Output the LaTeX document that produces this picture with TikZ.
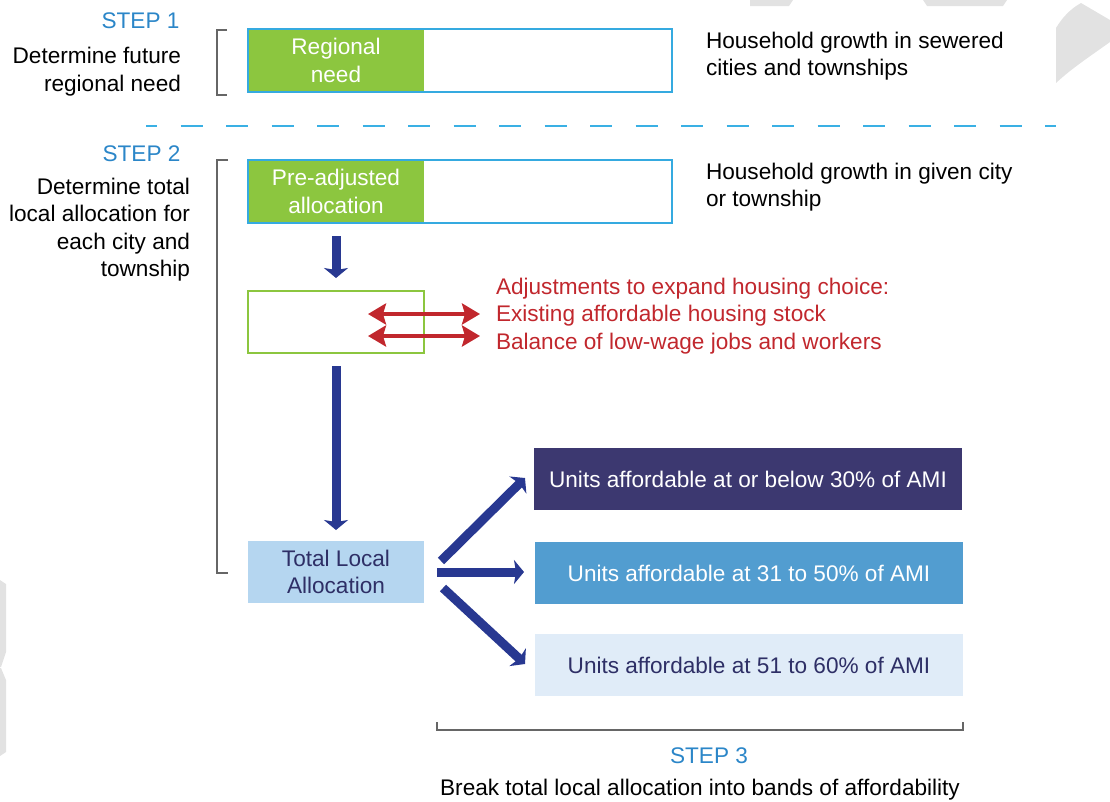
\documentclass[tikz,border=0pt]{standalone}
\usepackage{fontspec}
\setmainfont{Liberation Sans}
\usetikzlibrary{arrows.meta,calc}
\definecolor{stepblue}{HTML}{2B86C8}
\definecolor{boxcyan}{HTML}{35AAE0}
\definecolor{dashcyan}{HTML}{3AB0E4}
\definecolor{lgreen}{HTML}{8CC63F}
\definecolor{arrowblue}{HTML}{283891}
\definecolor{adjred}{HTML}{C1272D}
\definecolor{navy}{HTML}{2E2F66}
\definecolor{bandA}{HTML}{3C3870}
\definecolor{bandB}{HTML}{529DD0}
\definecolor{bandC}{HTML}{E0ECF8}
\definecolor{totalfill}{HTML}{B5D6F0}
\definecolor{wmgrey}{HTML}{E2E2E2}
\definecolor{brackgrey}{HTML}{666666}
\tikzset{
  txt/.style={font=\fontsize{22.6}{27.4}\selectfont, inner sep=0pt, outer sep=0pt},
  steplabel/.style={txt, text=stepblue},
  outerbox/.style={draw=boxcyan, line width=2pt, inner sep=0pt, outer sep=0pt,
    minimum width=424pt, minimum height=63pt},
  greenbox/.style={txt, fill=lgreen, text=white, align=center,
    minimum width=176pt, minimum height=63pt},
  band/.style={txt, minimum width=428pt, minimum height=62pt},
  bracketline/.style={draw=brackgrey, line width=1.1pt},
  bigarrow/.style={draw=arrowblue, line width=9pt,
    -{Stealth[width=24pt,length=10pt,inset=2pt]}},
  redarrow/.style={draw=adjred, line width=4.5pt,
    {Stealth[width=21pt,length=18pt,inset=3pt]}-{Stealth[width=21pt,length=18pt,inset=3pt]}},
}
\begin{document}
\begin{tikzpicture}[x=1pt,y=-1pt]
\useasboundingbox (0,0) rectangle (1110,801);
% faint background marks
\fill[wmgrey] (1056,83) -- (1056,28) .. controls (1062,18) and (1070,9) .. (1081,3) -- (1110,20) -- (1110,42) .. controls (1092,55) and (1072,68) .. (1056,83) -- cycle;
\fill[wmgrey] (923,0) -- (1007,0) -- (1003,6) -- (927,6) -- cycle;
\fill[wmgrey] (750,0) -- (793,0) -- (789,6) -- (750,6) -- cycle;
\fill[wmgrey] (0,580) -- (6,584) -- (6,652) -- (1,667) -- (0,667) -- cycle;
\fill[wmgrey] (0,668) -- (1,668) -- (6,680) -- (6,752) -- (0,756) -- cycle;

% STEP 1
\node[steplabel] (s1) at (140.5,20.5) {STEP 1};
\node[txt, align=right, anchor=east] (d1) at (181,71.5) {Determine future\\regional need};
\draw[bracketline] (227,30) -- (217,30) -- (217,95) -- (227,95);
\node[greenbox, anchor=north west] (rn) at (248,29) {Regional\\need};
\node[outerbox, anchor=north west] (b1) at (248,29) {};
\node[txt, align=left, anchor=west] (h1) at (706,56) {Household growth in sewered\\cities and townships};

% dashed separator
\draw[dashcyan, line width=2pt, dash pattern=on 22pt off 23.5pt, dash phase=11pt] (146,126) -- (1056,126);

% STEP 2
\node[steplabel] (s2) at (141.5,154) {STEP 2};
\node[txt, align=right, anchor=east] (d2) at (190,229.5) {Determine total\\local allocation for\\each city and\\township};
\draw[bracketline] (228,160) -- (217,160) -- (217,573) -- (228,573);
\node[greenbox, anchor=north west] (pa) at (248,160) {Pre-adjusted\\allocation};
\node[outerbox, anchor=north west] (b2) at (248,160) {};
\node[txt, align=left, anchor=west] (h2) at (706,187) {Household growth in given city\\or township};

% adjustment box
\node[draw=lgreen, line width=2pt, inner sep=0pt, outer sep=0pt, minimum width=176pt, minimum height=62pt, anchor=north west] (adj) at (248,291) {};
\draw[bigarrow, shorten <=13pt, shorten >=13pt] (pa.south) -- (adj.north);

\coordinate (ra1) at (368,314);
\coordinate (rb1) at (480,314);
\coordinate (ra2) at (368,336);
\coordinate (rb2) at (480,336);
\draw[redarrow] (ra1) -- (rb1);
\draw[redarrow] (ra2) -- (rb2);
\node[txt, text=adjred, align=left, anchor=west] (adjtxt) at (496,316) {Adjustments to expand housing choice:\\Existing affordable housing stock\\Balance of low-wage jobs and workers};

% total local allocation
\node[txt, fill=totalfill, text=navy, align=center, minimum width=176pt, minimum height=62pt, anchor=north west] (total) at (248,541) {Total Local\\Allocation};
\draw[bigarrow, shorten <=13pt, shorten >=11pt] (adj.south) -- (total.north);

% bands
\node[band, fill=bandA, text=white, anchor=north west] (bA) at (534,448) {Units affordable at or below 30\% of AMI};
\node[band, fill=bandB, text=white, anchor=north west] (bB) at (535,542) {Units affordable at 31 to 50\% of AMI};
\node[band, fill=bandC, text=navy, anchor=north west] (bC) at (535,634) {Units affordable at 51 to 60\% of AMI};

\coordinate (o1) at (441,561);
\coordinate (o2) at (437,572);
\coordinate (o3) at (443,588);
\coordinate (e1) at (525,478);
\coordinate (e2) at (524,572);
\coordinate (e3) at (525,664);
\draw[bigarrow] (o1) -- (e1);
\draw[bigarrow] (o2) -- (e2);
\draw[bigarrow] (o3) -- (e3);

% STEP 3
\draw[bracketline] (437,722) -- (437,730) -- (963,730) -- (963,722);
\node[steplabel] (s3) at (709,756) {STEP 3};
\node[txt] (d3) at (700,790) {Break total local allocation into bands of affordability};
\end{tikzpicture}
\end{document}
